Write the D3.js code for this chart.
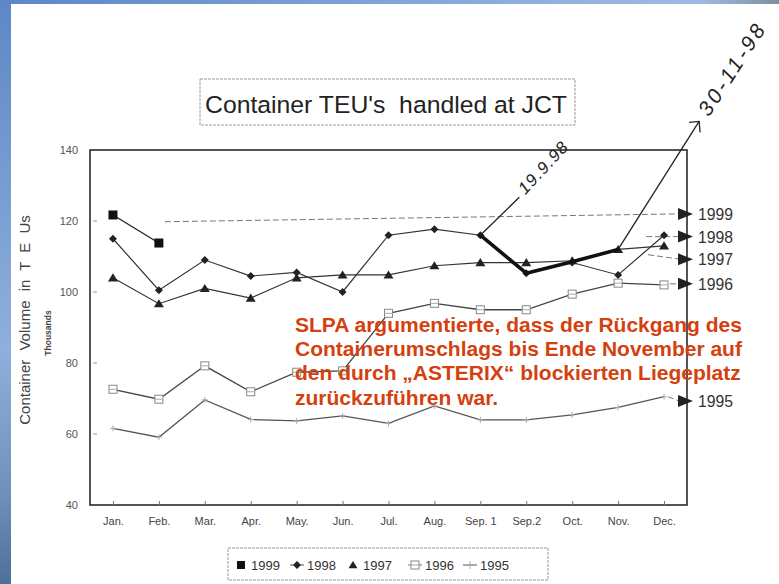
<!DOCTYPE html>
<html>
<head>
<meta charset="utf-8">
<script src="https://cdn.jsdelivr.net/npm/d3@7"></script>
<style>
  body { margin:0; background:#fff; }
  svg { display:block; font-family:"Liberation Sans", Arial, sans-serif; }
</style>
</head>
<body>
<svg id="chart"></svg>
<script>
/*************** data *****************/
var months = ["Jan.","Feb.","Mar.","Apr.","May.","Jun.","Jul.","Aug.","Sep. 1","Sep.2","Oct.","Nov.","Dec."];
var yTicks = [40, 60, 80, 100, 120, 140];
var years = ["1999","1998","1997","1996","1995"];

var v1999 = [121.7, 113.8, null, null, null, null, null, null, null, null, null, null, null];
var v1998 = [115, 100.5, 109, 104.5, 105.5, 100, 116, 117.7, 116, 105.3, 108.3, 104.8, 116];
var v1997 = [104, 96.7, 101, 98.3, 104, 104.8, 104.8, 107.4, 108.3, 108.3, 108.8, 112, 113];
var v1996 = [72.6, 69.8, 79.2, 71.9, 77.4, 77.8, 94, 96.8, 95, 95, 99.4, 102.5, 102];
var v1995 = [61.6, 59.1, 69.6, 64.1, 63.7, 65.1, 63, 67.9, 64, 64, 65.4, 67.5, 70.5];

// hand drawn thick stroke over the chart (Sep. 1 -> Nov.)
var boldMonths = ["Sep. 1","Sep.2","Oct.","Nov."];
var boldValues = [116, 105.3, 108.5, 112];

// right hand labels with arrows, value where each arrow sits
var labelValues = [122, 115.6, 109.2, 102.3, 69.3];

var noteLines = [
  "SLPA argumentierte, dass der Rückgang des",
  "Containerumschlags bis Ende November auf",
  "den durch \u201eASTERIX\u201c blockierten Liegeplatz",
  "zurückzuführen war."
];

/*************** settings *****************/
var width = 779, height = 584,
    plotLeft = 90, plotRight = 687, plotTop = 150, plotBottom = 505,
    ink = "#2a2a2a";

var svg = d3.select("#chart").attr("width", width).attr("height", height);

/*************** slide background edges *****************/
var defs = svg.append("defs");
var gl = defs.append("linearGradient").attr("id","edgeL").attr("x1",0).attr("x2",0).attr("y1",0).attr("y2",1);
gl.append("stop").attr("offset","0%").attr("stop-color","#5d87c6");
gl.append("stop").attr("offset","60%").attr("stop-color","#8fb0dc");
gl.append("stop").attr("offset","85%").attr("stop-color","#6f8fb8");
gl.append("stop").attr("offset","100%").attr("stop-color","#4e6f9a");
var gt = defs.append("linearGradient").attr("id","edgeT");
gt.append("stop").attr("offset","0%").attr("stop-color","#5d87c6");
gt.append("stop").attr("offset","90%").attr("stop-color","#9fbbe3");
gt.append("stop").attr("offset","100%").attr("stop-color","#7e8f9f");

svg.append("rect").attr("width",width).attr("height",height).attr("fill","#fff");
svg.append("rect").attr("x",0).attr("y",0).attr("width",11).attr("height",height).attr("fill","url(#edgeL)");
svg.append("rect").attr("x",0).attr("y",0).attr("width",width).attr("height",4).attr("fill","url(#edgeT)");

/*************** scales *****************/
var x = d3.scalePoint().domain(months).range([plotLeft, plotRight]).padding(0.5);
var y = d3.scaleLinear().domain([40, 140]).range([plotBottom, plotTop]);

/*************** title *****************/
svg.append("rect")
  .attr("x",200).attr("y",79).attr("width",375).attr("height",46)
  .attr("fill","none").attr("stroke","#9a9a9a").attr("stroke-width",1)
  .attr("stroke-dasharray","3,1");
svg.append("text")
  .attr("x",205).attr("y",113)
  .attr("font-size",24.5).attr("fill","#222")
  .attr("textLength",362).attr("lengthAdjust","spacingAndGlyphs")
  .style("white-space","pre")
  .text("Container TEU's  handled at JCT");

/*************** frame + axes *****************/
var g = svg.append("g");

g.append("rect")
  .attr("x",plotLeft).attr("y",plotTop)
  .attr("width",plotRight-plotLeft).attr("height",plotBottom-plotTop)
  .attr("fill","none").attr("stroke",ink).attr("stroke-width",1.6);

var yAxis = d3.axisLeft(y).tickValues(yTicks).tickSize(0).tickPadding(12);
g.append("g").attr("transform","translate(" + plotLeft + ",0)").call(yAxis)
  .call(function(s){
    s.select(".domain").remove();
    s.selectAll("text").attr("font-size",11).attr("fill","#555").attr("font-family","Liberation Sans, Arial");
  });

// tiny inner ticks
g.selectAll("line.ytick").data(yTicks.slice(1,5)).enter().append("line")
  .attr("x1",plotLeft+3).attr("x2",plotLeft+7)
  .attr("y1",function(d){return y(d);}).attr("y2",function(d){return y(d);})
  .attr("stroke","#999");

var xAxis = d3.axisBottom(x).tickSize(-4).tickPadding(12);
g.append("g").attr("transform","translate(0," + plotBottom + ")").call(xAxis)
  .call(function(s){
    s.select(".domain").remove();
    s.selectAll("line").attr("stroke","#777");
    s.selectAll("text").attr("font-size",11).attr("fill","#444").attr("font-family","Liberation Sans, Arial");
  });

// axis titles
svg.append("text")
  .attr("transform","translate(30,320) rotate(-90)")
  .attr("text-anchor","middle").attr("font-size",15).attr("fill","#444")
  .attr("word-spacing",5)
  .text("Container Volume in T E Us");
svg.append("text")
  .attr("transform","translate(51,333) rotate(-90)")
  .attr("text-anchor","middle").attr("font-size",8.5).attr("font-weight","bold").attr("fill","#444")
  .text("Thousands");

/*************** lines *****************/
var series = [
  {name:"1999", values:v1999, stroke:"#222", sw:1.3},
  {name:"1998", values:v1998, stroke:"#333", sw:1.2},
  {name:"1997", values:v1997, stroke:"#333", sw:1.2},
  {name:"1996", values:v1996, stroke:"#444", sw:1.3},
  {name:"1995", values:v1995, stroke:"#555", sw:1.3}
];

var line = d3.line()
  .defined(function(d){ return d.v != null; })
  .x(function(d){ return x(d.m); })
  .y(function(d){ return y(d.v); });

function pts(values){
  return months.map(function(m,i){ return {m:m, v:values[i]}; });
}

// leader lines to the labels on the right
var leaders = [
  [[x("Feb.")+6, y(119.8)], [plotRight-8, y(labelValues[0])]],
  [[x("Nov.")+28, y(labelValues[1])], [plotRight-8, y(labelValues[1])]],
  [[x("Nov.")+30, y(110.5)], [plotRight-6, y(labelValues[2])]],
  [[x("Dec.")+6, y(labelValues[3])], [plotRight-8, y(labelValues[3])]],
  [[x("Dec.")+4, y(v1995[12])], [plotRight-8, y(labelValues[4])]]
];
g.selectAll("path.leader").data(leaders).enter().append("path")
  .attr("class","leader")
  .attr("d", d3.line())
  .attr("fill","none").attr("stroke","#777").attr("stroke-width",1)
  .attr("stroke-dasharray","6,3");

g.selectAll("path.series").data(series).enter().append("path")
  .attr("class","series")
  .attr("d", function(d){ return line(pts(d.values)); })
  .attr("fill","none")
  .attr("stroke", function(d){ return d.stroke; })
  .attr("stroke-width", function(d){ return d.sw; });

/*************** markers *****************/
function drawMarker(sel, name, size){
  var h = size/2;
  if(name === "1999"){
    sel.append("rect").attr("x",-h).attr("y",-h).attr("width",size).attr("height",size).attr("fill","#111");
  } else if(name === "1998"){
    sel.append("path").attr("d","M0," + (-h) + "L" + h + ",0L0," + h + "L" + (-h) + ",0Z").attr("fill","#222");
  } else if(name === "1997"){
    sel.append("path").attr("d","M0," + (-h) + "L" + (h+0.5) + "," + (h*0.8) + "L" + (-h-0.5) + "," + (h*0.8) + "Z").attr("fill","#222");
  } else if(name === "1996"){
    sel.append("rect").attr("x",-h).attr("y",-h).attr("width",size).attr("height",size)
      .attr("fill","#fff").attr("stroke","#888").attr("stroke-width",1);
    sel.append("line").attr("x1",-h).attr("x2",h).attr("y1",0).attr("y2",0).attr("stroke","#aaa");
  } else {
    sel.append("path").attr("d","M"+(-h)+",0L"+h+",0M0,"+(-h)+"L0,"+h).attr("stroke","#aaa").attr("stroke-width",1);
  }
}

var markerSize = {"1999":9, "1998":8, "1997":9, "1996":8, "1995":6};

series.forEach(function(s){
  var mg = g.append("g").attr("class","markers-" + s.name);
  pts(s.values).filter(function(d){ return d.v != null; }).forEach(function(d){
    var m = mg.append("g").attr("transform","translate(" + x(d.m) + "," + y(d.v) + ")");
    drawMarker(m, s.name, markerSize[s.name]);
  });
});

/*************** hand drawn marks *****************/
var boldLine = d3.line()
  .x(function(d){ return x(d.m); })
  .y(function(d){ return y(d.v); });
g.append("path")
  .attr("d", boldLine(boldMonths.map(function(m,i){ return {m:m, v:boldValues[i]}; })))
  .attr("fill","none").attr("stroke","#111").attr("stroke-width",3.6)
  .attr("stroke-linejoin","round").attr("stroke-linecap","round");

// 19.9.98
var p1 = [x("Sep. 1"), y(v1998[8])];
svg.append("line")
  .attr("x1",p1[0]).attr("y1",p1[1]).attr("x2",p1[0]+39).attr("y2",p1[1]-38)
  .attr("stroke","#222").attr("stroke-width",1.3);
svg.append("text")
  .attr("transform","translate(" + (p1[0]+45) + "," + (p1[1]-40) + ") rotate(-47)")
  .attr("font-size",17).attr("font-style","italic").attr("fill","#222")
  .attr("textLength",64).attr("lengthAdjust","spacing")
  .text("19.9.98");

// 30-11-98
var p2 = [x("Nov."), y(boldValues[3])];
var tip = [p2[0]+81, p2[1]-128];
svg.append("line")
  .attr("x1",p2[0]).attr("y1",p2[1]).attr("x2",tip[0]).attr("y2",tip[1])
  .attr("stroke","#222").attr("stroke-width",1.3);
svg.append("path")
  .attr("d","M" + (tip[0]-10) + "," + (tip[1]+1) + "L" + tip[0] + "," + tip[1] + "L" + (tip[0]+1) + "," + (tip[1]+11))
  .attr("fill","none").attr("stroke","#222").attr("stroke-width",1.3);
svg.append("text")
  .attr("transform","translate(" + (tip[0]+10) + "," + (tip[1]-4) + ") rotate(-57)")
  .attr("font-size",21).attr("font-style","italic").attr("fill","#222")
  .attr("textLength",104).attr("lengthAdjust","spacing")
  .text("30-11-98");

/*************** right labels *****************/
var lab = svg.append("g");
years.forEach(function(yr,i){
  var yy = y(labelValues[i]);
  lab.append("path")
    .attr("d","M" + (plotRight-9) + "," + (yy-6) + "L" + (plotRight+6) + "," + yy + "L" + (plotRight-9) + "," + (yy+6) + "Z")
    .attr("fill","#222");
  lab.append("text")
    .attr("x",plotRight+11).attr("y",yy+6)
    .attr("font-size",17).attr("fill","#333")
    .attr("textLength",35).attr("lengthAdjust","spacingAndGlyphs")
    .text(yr);
});

/*************** legend *****************/
var legend = svg.append("g");
legend.append("rect")
  .attr("x",228).attr("y",548).attr("width",320).attr("height",32)
  .attr("fill","#fff").attr("stroke","#999").attr("stroke-dasharray","3,1");
var legendX = [241, 297, 353, 415, 470];
years.forEach(function(yr,i){
  var m = legend.append("g").attr("transform","translate(" + legendX[i] + ",565)");
  if(yr === "1998" || yr === "1995"){
    m.append("line").attr("x1",-7).attr("x2",7).attr("stroke","#555");
  }
  if(yr === "1996"){
    m.append("line").attr("x1",-7).attr("x2",7).attr("stroke","#777");
  }
  drawMarker(m, yr, 8);
  legend.append("text")
    .attr("x",legendX[i]+10).attr("y",570)
    .attr("font-size",13).attr("fill","#333")
    .text(yr);
});

/*************** red note *****************/
svg.append("g").selectAll("text").data(noteLines).enter().append("text")
  .attr("x",295)
  .attr("y",function(d,i){ return 332 + i*24.2; })
  .attr("font-size",21).attr("font-weight","bold").attr("fill","#d4410f")
  .text(function(d){ return d; });
</script>
</body>
</html>
